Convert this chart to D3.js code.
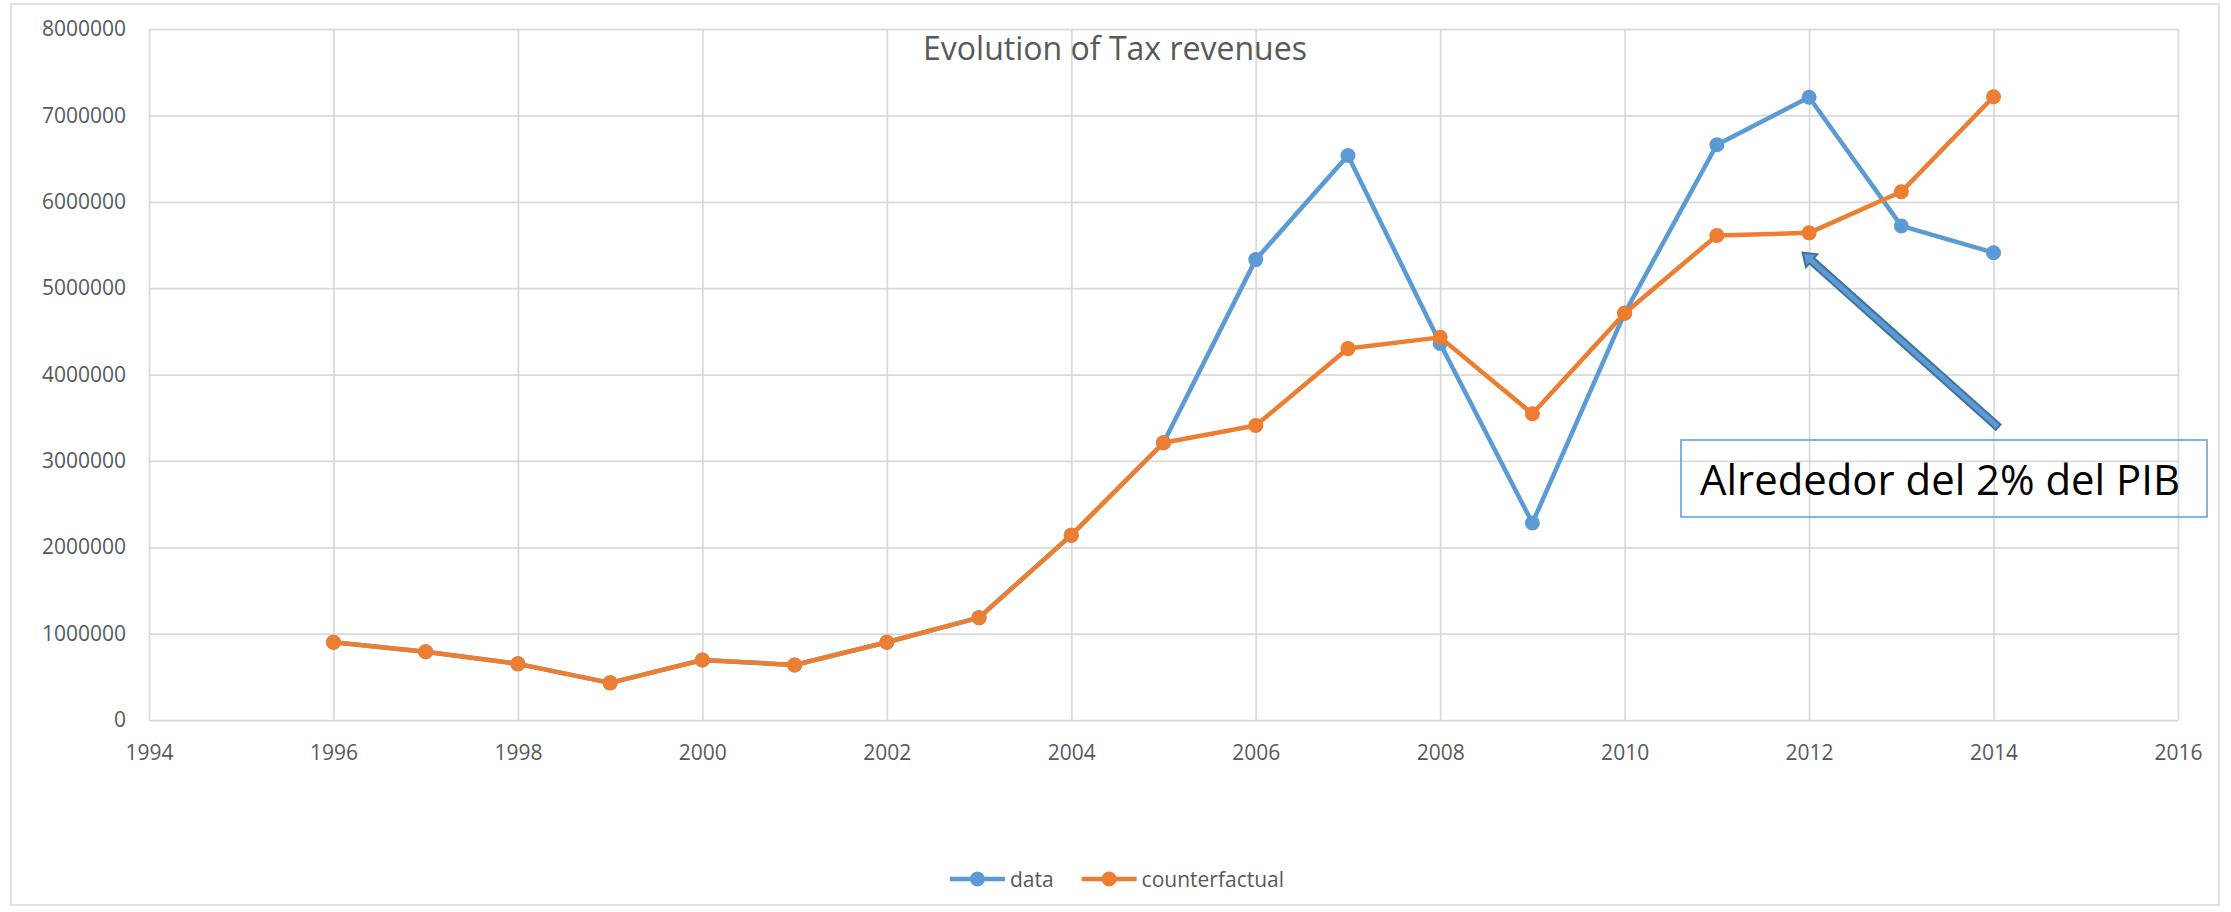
<!DOCTYPE html>
<html>
<head>
<meta charset="utf-8">
<script src="https://cdn.jsdelivr.net/npm/d3@7"></script>
<style>
  body { margin: 0; background: #fff; }
  text { font-family: "Open Sans", sans-serif; }
</style>
</head>
<body>
<svg id="chart" width="2231" height="912"></svg>
<script>
// chart values
const years = [1996, 1997, 1998, 1999, 2000, 2001, 2002, 2003, 2004, 2005,
  2006, 2007, 2008, 2009, 2010, 2011, 2012, 2013, 2014];
const dataValues = [900000, 790000, 650000, 430000, 695000, 637000, 900000, 1185000, 2140000, 3210000,
  5330000, 6535000, 4360000, 2280000, 4710000, 6660000, 7210000, 5720000, 5410000];
const counterfactualValues = [900000, 790000, 650000, 430000, 695000, 637000, 900000, 1185000, 2140000, 3210000,
  3410000, 4300000, 4430000, 3545000, 4710000, 5610000, 5640000, 6115000, 7215000];
const seriesNames = ["data", "counterfactual"];
const xTicks = d3.range(1994, 2017, 2);
const yTicks = d3.range(0, 8000001, 1000000);
const chartTitle = "Evolution of Tax revenues";
const noteText = "Alrededor del 2% del PIB";

const width = 2231, height = 912;
const colors = ["#5b9bd5", "#ed7d31"];
const gridColor = "#d9d9d9";
const labelColor = "#595959";

const svg = d3.select("#chart");

const x = d3.scaleLinear().domain([1994, 2016]).range([149, 2178]);
const y = d3.scaleLinear().domain([0, 8000000]).range([720, 29]);

// scale a text's font so it spans a given width
function fitWidth(sel, target) {
  const w = sel.node().getComputedTextLength();
  const size = parseFloat(sel.attr("font-size"));
  sel.attr("font-size", size * target / w);
}

// outer chart border
svg.append("rect")
  .attr("x", 11).attr("y", 4)
  .attr("width", 2208).attr("height", 901)
  .attr("fill", "#fff")
  .attr("stroke", gridColor)
  .attr("stroke-width", 1.5);

// y axis with horizontal gridlines
const yAxis = svg.append("g")
  .attr("transform", `translate(${x.range()[0]},0)`)
  .call(d3.axisLeft(y)
    .tickValues(yTicks)
    .tickSize(-(x.range()[1] - x.range()[0]))
    .tickPadding(23)
    .tickFormat(d3.format("d")));
yAxis.select(".domain").remove();
yAxis.selectAll(".tick line").attr("stroke", gridColor).attr("stroke-width", 1.75);
yAxis.selectAll(".tick text")
  .attr("fill", labelColor)
  .attr("font-size", 21)
  .attr("font-family", "Open Sans");

// x axis with vertical gridlines
const xAxis = svg.append("g")
  .attr("transform", `translate(0,${y.range()[0]})`)
  .call(d3.axisBottom(x)
    .tickValues(xTicks)
    .tickSize(-(y.range()[0] - y.range()[1]))
    .tickFormat(d3.format("d")));
xAxis.select(".domain").remove();
xAxis.selectAll(".tick line").attr("stroke", gridColor).attr("stroke-width", 1.75);
xAxis.selectAll(".tick text")
  .attr("y", 40)
  .attr("dy", null)
  .attr("fill", labelColor)
  .attr("font-size", 21)
  .attr("font-family", "Open Sans");

// title
const title = svg.append("text")
  .attr("x", 1115).attr("y", 60)
  .attr("text-anchor", "middle")
  .attr("fill", labelColor)
  .attr("font-size", 32)
  .text(chartTitle);
fitWidth(title, 384);

// series lines and markers
const series = [dataValues, counterfactualValues].map((vals, i) => ({
  name: seriesNames[i],
  color: colors[i],
  points: years.map((yr, j) => [yr, vals[j]])
}));

const line = d3.line().x(d => x(d[0])).y(d => y(d[1]));

series.forEach(s => {
  const g = svg.append("g");
  g.append("path")
    .datum(s.points)
    .attr("d", line)
    .attr("fill", "none")
    .attr("stroke", s.color)
    .attr("stroke-width", 4.5)
    .attr("stroke-linejoin", "round");
  g.selectAll("circle")
    .data(s.points)
    .join("circle")
    .attr("cx", d => x(d[0]))
    .attr("cy", d => y(d[1]))
    .attr("r", 7.5)
    .attr("fill", s.color);
});

// annotation box
const note = svg.append("g");
note.append("rect")
  .attr("x", 1681).attr("y", 440)
  .attr("width", 526).attr("height", 77)
  .attr("fill", "none")
  .attr("stroke", "#5b9bd5")
  .attr("stroke-width", 1.5);
const noteLabel = note.append("text")
  .attr("x", 1940).attr("y", 495)
  .attr("text-anchor", "middle")
  .attr("fill", "#000")
  .attr("font-size", 43)
  .text(noteText);
fitWidth(noteLabel, 480);

// block arrow pointing to the 2012 values
const tail = [x(2014.05), y(3390000)];
const tip = [x(2011.93), y(5410000)];
const len = Math.hypot(tip[0] - tail[0], tip[1] - tail[1]);
const ux = (tip[0] - tail[0]) / len, uy = (tip[1] - tail[1]) / len;
const nx = -uy, ny = ux;
const shaft = 3.5, head = 8.5, headLen = 12;
const neck = [tip[0] - ux * headLen, tip[1] - uy * headLen];
const arrowPts = [
  [tail[0] + nx * shaft, tail[1] + ny * shaft],
  [neck[0] + nx * shaft, neck[1] + ny * shaft],
  [neck[0] + nx * head, neck[1] + ny * head],
  tip,
  [neck[0] - nx * head, neck[1] - ny * head],
  [neck[0] - nx * shaft, neck[1] - ny * shaft],
  [tail[0] - nx * shaft, tail[1] - ny * shaft]
];
svg.append("polygon")
  .attr("points", arrowPts.map(p => p.join(",")).join(" "))
  .attr("fill", "#5b9bd5")
  .attr("stroke", "#41719c")
  .attr("stroke-width", 2)
  .attr("stroke-linejoin", "miter");

// legend, centred under the plot
const legend = svg.append("g").attr("transform", "translate(0,879)");
let cursor = 0;
series.forEach(s => {
  const item = legend.append("g").attr("transform", `translate(${cursor},0)`);
  item.append("line")
    .attr("x1", 0).attr("x2", 55)
    .attr("stroke", s.color)
    .attr("stroke-width", 4.5);
  item.append("circle")
    .attr("cx", 27.5).attr("r", 7.5)
    .attr("fill", s.color);
  const t = item.append("text")
    .attr("x", 60).attr("y", 7.5)
    .attr("fill", labelColor)
    .attr("font-size", 21)
    .text(s.name);
  cursor += 60 + t.node().getComputedTextLength() + 28;
});
const legendWidth = cursor - 28;
legend.attr("transform", `translate(${1117 - legendWidth / 2},879)`);
</script>
</body>
</html>
